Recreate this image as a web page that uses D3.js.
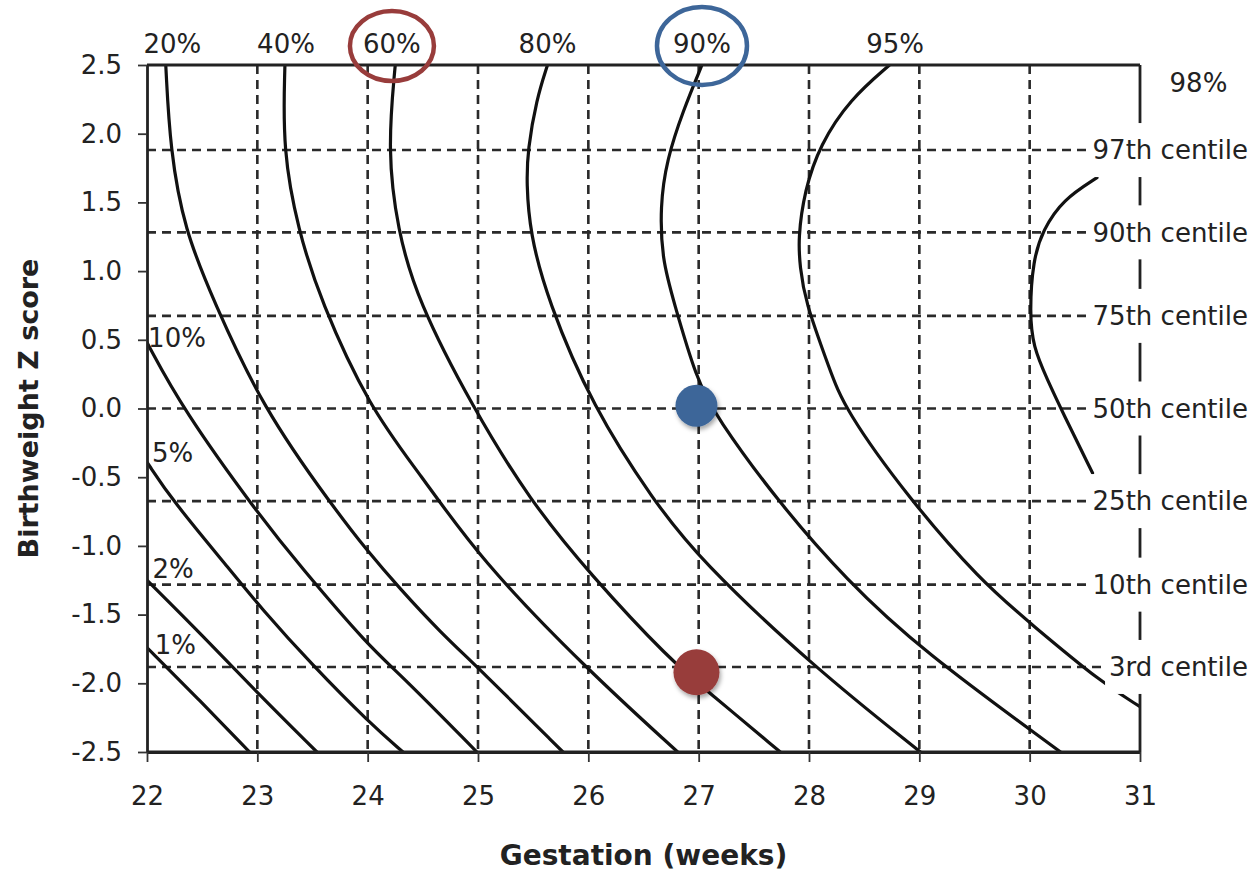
<!DOCTYPE html>
<html>
<head>
<meta charset="utf-8">
<script src="https://cdn.jsdelivr.net/npm/d3@7"></script>
<style>
  html, body { margin: 0; padding: 0; background: #fff; }
  svg { display: block; }
  text { font-family: "DejaVu Sans", sans-serif; fill: #222; }
</style>
</head>
<body>
<svg id="chart" width="1255" height="876"></svg>
<script>
// ---------------- DATA ----------------
const xTickValues = [22, 23, 24, 25, 26, 27, 28, 29, 30, 31];
const xTickLabels = ["22", "23", "24", "25", "26", "27", "28", "29", "30", "31"];
const yTickValues = [2.5, 2.0, 1.5, 1.0, 0.5, 0.0, -0.5, -1.0, -1.5, -2.0, -2.5];
const yTickLabels = ["2.5", "2.0", "1.5", "1.0", "0.5", "0.0", "-0.5", "-1.0", "-1.5", "-2.0", "-2.5"];
const gridWeeks = [23, 24, 25, 26, 27, 28, 29, 30];

const centileNames = ["97th centile", "90th centile", "75th centile", "50th centile", "25th centile", "10th centile", "3rd centile"];
const centileZ = [1.881, 1.282, 0.674, 0.0, -0.674, -1.282, -1.881];

// survival contours: [gestation weeks, birthweight z]
const surv1 = [[22.00, -1.74], [22.46, -2.11], [22.93, -2.50]];
const surv2 = [[22.00, -1.25], [22.50, -1.65], [23.00, -2.07], [23.54, -2.50]];
const surv5 = [[22.00, -0.39], [22.23, -0.67], [22.78, -1.20], [23.02, -1.44], [23.50, -1.87], [24.02, -2.29], [24.32, -2.50]];
const surv10 = [[22.00, 0.48], [22.32, 0.00], [23.00, -0.76], [23.39, -1.15], [24.02, -1.74], [24.29, -1.93], [24.99, -2.50]];
const surv20 = [[22.17, 2.50], [22.21, 1.88], [22.34, 1.30], [22.60, 0.79], [23.05, 0.00], [23.69, -0.72], [23.99, -1.03], [24.29, -1.31], [24.66, -1.63], [25.02, -1.90], [25.77, -2.50]];
const surv40 = [[23.25, 2.50], [23.23, 1.88], [23.37, 1.30], [23.57, 0.79], [24.02, 0.00], [24.47, -0.47], [25.02, -1.10], [25.99, -1.90], [26.81, -2.50]];
const surv60 = [[24.25, 2.50], [24.18, 1.88], [24.27, 1.30], [24.45, 0.79], [24.95, 0.01], [25.47, -0.67], [26.02, -1.21], [26.74, -1.83], [27.10, -2.07], [27.74, -2.50]];
const surv80 = [[25.63, 2.50], [25.53, 2.25], [25.45, 1.88], [25.44, 1.64], [25.47, 1.28], [25.63, 0.79], [26.04, 0.01], [26.59, -0.67], [27.01, -1.10], [28.04, -1.88], [29.01, -2.50]];
const surv90 = [[27.03, 2.50], [26.86, 2.17], [26.71, 1.81], [26.65, 1.47], [26.67, 1.08], [26.77, 0.79], [26.98, 0.21], [27.16, -0.06], [27.71, -0.67], [28.34, -1.25], [29.02, -1.76], [30.28, -2.50]];
const surv95 = [[28.73, 2.50], [28.37, 2.25], [28.10, 1.92], [27.96, 1.59], [27.90, 1.23], [27.92, 1.03], [27.96, 0.79], [28.19, 0.28], [28.32, 0.00], [28.89, -0.64], [29.55, -1.25], [30.03, -1.58], [30.66, -2.00], [31.00, -2.17]];
const surv98 = [[30.61, 1.68], [30.30, 1.52], [30.12, 1.30], [30.03, 1.08], [30.00, 0.70], [30.03, 0.45], [30.16, 0.21], [30.30, -0.03], [30.57, -0.47]];
const survivalCurves = [surv1, surv2, surv5, surv10, surv20, surv40, surv60, surv80, surv90, surv95, surv98];

// contour labels above the plot (centre week) and at the left edge (start week, baseline z)
const topLabelNames = ["20%", "40%", "60%", "80%", "90%", "95%"];
const topLabelWeeks = [22.23, 23.26, 24.22, 25.63, 27.03, 28.78];
const sideLabelNames = ["10%", "5%", "2%", "1%"];
const sideLabelWeeks = [22.01, 22.045, 22.05, 22.07];
const sideLabelZ = [0.45, -0.39, -1.23, -1.79];
const farLabelName = "98%";
const farLabelWeek = 31.53;
const farLabelZ = 2.30;

// highlighted points and circled labels
const pointWeeks = [26.98, 26.98];
const pointZ = [0.02, -1.92];
const pointColors = ["#3d6699", "#983c3b"];
const circledLabels = ["60%", "90%"];
const circledColors = ["#983c3b", "#3d6699"];

// ---------------- CHART ----------------
const svg = d3.select("#chart");
const L = 147, R = 1140, T = 65, B = 752;
const x = d3.scaleLinear().domain([22, 31]).range([L, R]);
const y = d3.scaleLinear().domain([-2.5, 2.5]).range([B, T]);

const defs = svg.append("defs");
defs.append("clipPath").attr("id", "plotClip")
  .append("rect").attr("x", L).attr("y", T).attr("width", R - L).attr("height", B - T);
const shadow = defs.append("filter").attr("id", "shadow")
  .attr("x", "-50%").attr("y", "-50%").attr("width", "200%").attr("height", "200%");
shadow.append("feDropShadow").attr("dx", 1.5).attr("dy", 3).attr("stdDeviation", 2)
  .attr("flood-color", "#000").attr("flood-opacity", 0.35);

// gridlines
const grid = svg.append("g").attr("stroke", "#2a2a2a").attr("stroke-width", 2.6)
  .attr("stroke-dasharray", "9,6").attr("fill", "none");
grid.selectAll("line.v").data(gridWeeks).join("line").attr("class", "v")
  .attr("x1", d => x(d)).attr("x2", d => x(d)).attr("y1", T).attr("y2", B);
grid.selectAll("line.h").data(centileZ).join("line").attr("class", "h")
  .attr("x1", L).attr("x2", R).attr("y1", d => y(d)).attr("y2", d => y(d));

// survival curves
const line = d3.line().x(d => x(d[0])).y(d => y(d[1])).curve(d3.curveBasis);
svg.append("g").attr("clip-path", "url(#plotClip)")
  .selectAll("path").data(survivalCurves).join("path")
  .attr("d", line).attr("fill", "none").attr("stroke", "#111")
  .attr("stroke-width", 3.2).attr("stroke-linecap", "round");

// frame
const frame = svg.append("g").attr("stroke", "#222").attr("stroke-width", 2.8).attr("fill", "none");
frame.append("line").attr("x1", x(22)).attr("x2", x(31)).attr("y1", y(2.5)).attr("y2", y(2.5));
frame.append("line").attr("x1", x(22)).attr("x2", x(31)).attr("y1", y(-2.5)).attr("y2", y(-2.5));
frame.append("line").attr("x1", x(31)).attr("x2", x(31)).attr("y1", y(2.5)).attr("y2", y(-2.5));

// axes
const yAxis = d3.axisLeft(y).tickValues(yTickValues)
  .tickFormat((d, i) => yTickLabels[i]).tickSize(9).tickSizeOuter(0).tickPadding(16);
const gy = svg.append("g").attr("transform", `translate(${L},0)`).call(yAxis);
const xAxis = d3.axisBottom(x).tickValues(xTickValues)
  .tickFormat((d, i) => xTickLabels[i]).tickSize(10).tickSizeOuter(0).tickPadding(25);
const gx = svg.append("g").attr("transform", `translate(0,${B})`).call(xAxis);
[gx, gy].forEach(g => {
  g.select(".domain").attr("stroke", "#222").attr("stroke-width", 2.8);
  g.selectAll(".tick line").attr("stroke", "#333").attr("stroke-width", 1.8);
  g.selectAll(".tick text").style("font-size", "26px").attr("fill", "#222");
});

// centile labels on the right edge
const cl = svg.append("g");
centileNames.forEach((name, i) => {
  const yy = y(centileZ[i]);
  const g = cl.append("g");
  const t = g.append("text").attr("x", 1248).attr("y", yy).attr("dy", "0.36em")
    .attr("text-anchor", "end").style("font-size", "26px").text(name);
  const bb = t.node().getBBox();
  g.insert("rect", "text").attr("x", bb.x - 4).attr("y", yy - 27)
    .attr("width", 1255 - bb.x + 4).attr("height", 54).attr("fill", "#fff");
});

// contour labels
const lab = svg.append("g").style("font-size", "26px");
lab.selectAll("text.top").data(topLabelNames).join("text").attr("class", "top")
  .attr("x", (d, i) => x(topLabelWeeks[i])).attr("y", T - 12)
  .attr("text-anchor", "middle").text(d => d);
lab.selectAll("text.side").data(sideLabelNames).join("text").attr("class", "side")
  .attr("x", (d, i) => x(sideLabelWeeks[i])).attr("y", (d, i) => y(sideLabelZ[i]))
  .text(d => d);
lab.append("text").attr("x", x(farLabelWeek)).attr("y", y(farLabelZ))
  .attr("text-anchor", "middle").text(farLabelName);

// circled labels
circledLabels.forEach((name, i) => {
  const k = topLabelNames.indexOf(name);
  const cx = x(topLabelWeeks[k]);
  svg.append("ellipse").attr("cx", cx).attr("cy", T - 19)
    .attr("rx", 42 + i * 3).attr("ry", 35 + i * 4)
    .attr("fill", "none").attr("stroke", circledColors[i]).attr("stroke-width", 4.5);
});

// highlighted points
svg.append("g").selectAll("circle").data(pointWeeks).join("circle")
  .attr("cx", d => x(d)).attr("cy", (d, i) => y(pointZ[i]))
  .attr("r", (d, i) => i === 0 ? 21 : 23)
  .attr("fill", (d, i) => pointColors[i]).attr("filter", "url(#shadow)");

// axis titles
svg.append("text").attr("x", (L + R) / 2).attr("y", 865).attr("text-anchor", "middle")
  .style("font-size", "28px").style("font-weight", "bold").text("Gestation (weeks)");
svg.append("text").attr("transform", `translate(38,${(T + B) / 2}) rotate(-90)`)
  .attr("text-anchor", "middle").style("font-size", "27px").style("font-weight", "bold")
  .text("Birthweight Z score");
</script>
</body>
</html>
